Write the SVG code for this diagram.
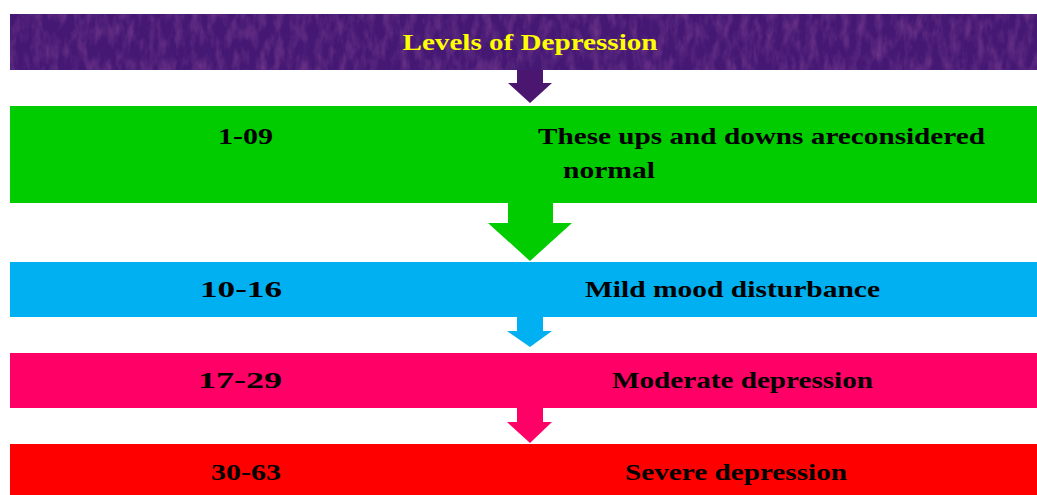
<svg xmlns="http://www.w3.org/2000/svg" width="1037" height="495" viewBox="0 0 1037 495">
<style>
.t{font-family:"Liberation Serif","Times New Roman",serif;font-weight:bold;fill:#000}
.title{font-family:"Liberation Serif","Times New Roman",serif;font-weight:bold;fill:#ffff00}
</style>
<defs>
<filter id="tex" x="0" y="0" width="100%" height="100%">
<feTurbulence type="fractalNoise" baseFrequency="0.12 0.05" numOctaves="3" seed="7" result="n"/>
<feColorMatrix in="n" type="matrix" values="0 0 0 0 0.14  0 0 0 0 0.03  0 0 0 0 0.24  0 0 0 -2 1.25" result="c"/>
<feComposite in="c" in2="SourceGraphic" operator="in"/>
</filter>
</defs>
<rect width="1037" height="495" fill="#fff"/>
<g id="connectors">
<polygon points="517,70 543,70 543,83 552,83 530,103 508,83 517,83" fill="#4a1670"/>
<polygon points="508,203 553,203 553,223 572,223 530,261 488,223 508,223" fill="#00cc00"/>
<polygon points="517,316 543,316 543,331 552,331 530,347 507,331 517,331" fill="#00b0f0"/>
<polygon points="517,408 543,408 543,422 552,422 530,443 507,422 517,422" fill="#ff0066"/>
</g>
<g id="title">
<rect x="10" y="14" width="1027" height="56" fill="#441873"/>
<rect x="10" y="14" width="1027" height="56" fill="#441873" filter="url(#tex)"/>
<text class="title" x="530" y="50" font-size="23" text-anchor="middle" textLength="255" lengthAdjust="spacingAndGlyphs">Levels of Depression</text>
</g>
<g id="level1">
<rect x="10" y="106" width="1027" height="97" fill="#00cc00"/>
<text class="t" x="218" y="144" font-size="24" textLength="55" lengthAdjust="spacingAndGlyphs">1-09</text>
<text class="t" x="538" y="144" font-size="24" textLength="447" lengthAdjust="spacingAndGlyphs">These ups and downs areconsidered</text>
<text class="t" x="563" y="178" font-size="24" textLength="92" lengthAdjust="spacingAndGlyphs">normal</text>
</g>
<g id="level2">
<rect x="10" y="262" width="1027" height="55" fill="#00b0f0"/>
<text class="t" x="200" y="297" font-size="24" textLength="82" lengthAdjust="spacingAndGlyphs">10-16</text>
<text class="t" x="585" y="297" font-size="24" textLength="295" lengthAdjust="spacingAndGlyphs">Mild mood disturbance</text>
</g>
<g id="level3">
<rect x="10" y="353" width="1027" height="55" fill="#ff0066"/>
<text class="t" x="198" y="388" font-size="24" textLength="84" lengthAdjust="spacingAndGlyphs">17-29</text>
<text class="t" x="612" y="388" font-size="24" textLength="261" lengthAdjust="spacingAndGlyphs">Moderate depression</text>
</g>
<g id="level4">
<rect x="10" y="444" width="1027" height="51" fill="#ff0000"/>
<text class="t" x="211" y="480" font-size="24" textLength="70" lengthAdjust="spacingAndGlyphs">30-63</text>
<text class="t" x="625" y="480" font-size="24" textLength="222" lengthAdjust="spacingAndGlyphs">Severe depression</text>
</g>
</svg>
